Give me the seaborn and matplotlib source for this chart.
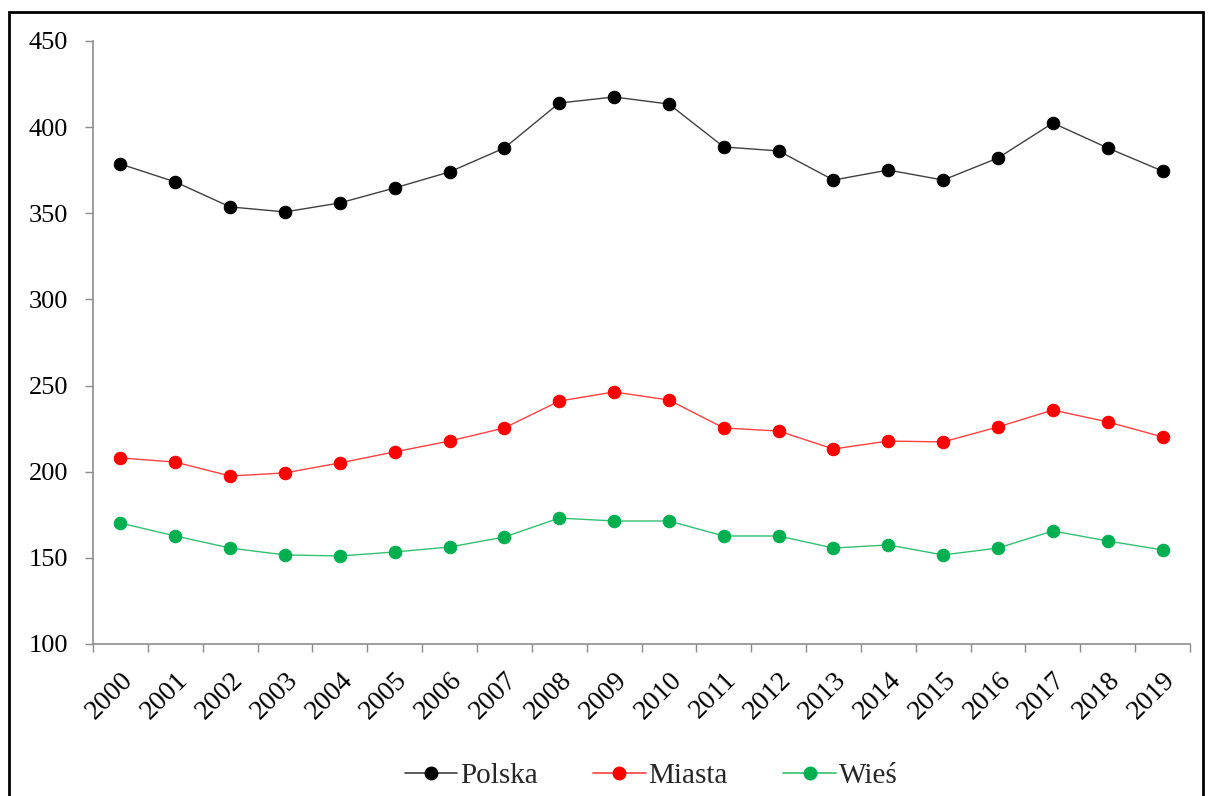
import matplotlib
matplotlib.use("Agg")
import matplotlib.pyplot as plt
from matplotlib.patches import Rectangle
from matplotlib.lines import Line2D
import seaborn as sns
import pandas as pd
import numpy as np

years = [str(y) for y in range(2000, 2020)]
polska = [378.6, 368.2, 353.7, 350.8, 356.0, 364.7, 374.0, 387.9, 414.0, 417.5,
          413.4, 388.5, 386.2, 369.3, 375.1, 369.3, 382.1, 402.4, 387.9, 374.5]
miasta = [208.0, 205.6, 197.5, 199.3, 205.1, 211.5, 217.8, 225.4, 241.0, 246.3,
          241.6, 225.4, 223.6, 213.2, 217.8, 217.3, 226.0, 235.8, 228.9, 220.2]
wies = [170.2, 162.7, 155.7, 151.7, 151.1, 153.4, 156.3, 162.1, 173.1, 171.4,
        171.4, 162.7, 162.7, 155.7, 157.5, 151.7, 155.7, 165.6, 159.8, 154.6]
series_names = ["Polska", "Miasta", "Wieś"]
y_ticks = [100, 150, 200, 250, 300, 350, 400, 450]

df = pd.DataFrame({
    "rok": list(range(len(years))) * 3,
    "wartosc": polska + miasta + wies,
    "seria": [series_names[0]] * 20 + [series_names[1]] * 20 + [series_names[2]] * 20,
})

sns.set_theme(style="white")
plt.rcParams["font.family"] = ["Liberation Serif", "DejaVu Serif"]

W, H = 1208, 796
fig = plt.figure(figsize=(W / 100, H / 100), dpi=100)
ax = fig.add_axes([93 / W, 1 - 644 / H, (1190 - 93) / W, (644 - 41) / H])

line_colors = {"Polska": "#404040", "Miasta": "#FF4040", "Wieś": "#33C070"}
mk_colors = {"Polska": "#000000", "Miasta": "#FF0000", "Wieś": "#00B050"}

for name in series_names:
    sub = df[df["seria"] == name]
    sns.lineplot(data=sub, x="rok", y="wartosc", ax=ax, color=line_colors[name],
                 linewidth=1.0, marker="o", markersize=9,
                 markerfacecolor=mk_colors[name], markeredgecolor=mk_colors[name],
                 legend=False)

ax.set_xlim(-0.5, len(years) - 0.5)
ax.set_ylim(100, 450)
ax.set_yticks(y_ticks)
ax.set_yticklabels([str(v) for v in y_ticks])
ax.set_xticks(range(len(years)))
ax.set_xticklabels(years, rotation=45, ha="right", va="top", rotation_mode="anchor")
ax.set_xticks(np.arange(-0.5, len(years), 1.0), minor=True)
ax.set_xlabel("")
ax.set_ylabel("")

for s in ["top", "right"]:
    ax.spines[s].set_visible(False)
for s in ["left", "bottom"]:
    ax.spines[s].set_color("#8C8C8C")
    ax.spines[s].set_linewidth(1.2)

ax.tick_params(axis="y", which="major", left=True, length=5.8, width=1.0,
               color="#8C8C8C", pad=12, labelsize=19, labelcolor="black")
ax.tick_params(axis="x", which="major", bottom=False, length=0, pad=17,
               labelsize=20, labelcolor="black")
ax.tick_params(axis="x", which="minor", bottom=True, length=5.8, width=1.0,
               color="#8C8C8C")
ax.grid(False)

handles = [Line2D([0], [0], color=line_colors[n], linewidth=1.2, marker="o",
                  markersize=9, markerfacecolor=mk_colors[n],
                  markeredgecolor=mk_colors[n]) for n in series_names]
fig.legend(handles, series_names, loc="center", bbox_to_anchor=(651 / W, 1 - 776 / H),
           ncol=3, frameon=False, fontsize=21, handlelength=1.8,
           handletextpad=0.1, columnspacing=1.9, borderpad=0, borderaxespad=0)

frame = Rectangle((9 / W, -0.1), (1203 - 9) / W, 1.1 - 12 / H,
                  transform=fig.transFigure, fill=False, edgecolor="black",
                  linewidth=2.0, clip_on=False)
fig.patches.append(frame)

fig.savefig("out.png", dpi=100, facecolor="white")
